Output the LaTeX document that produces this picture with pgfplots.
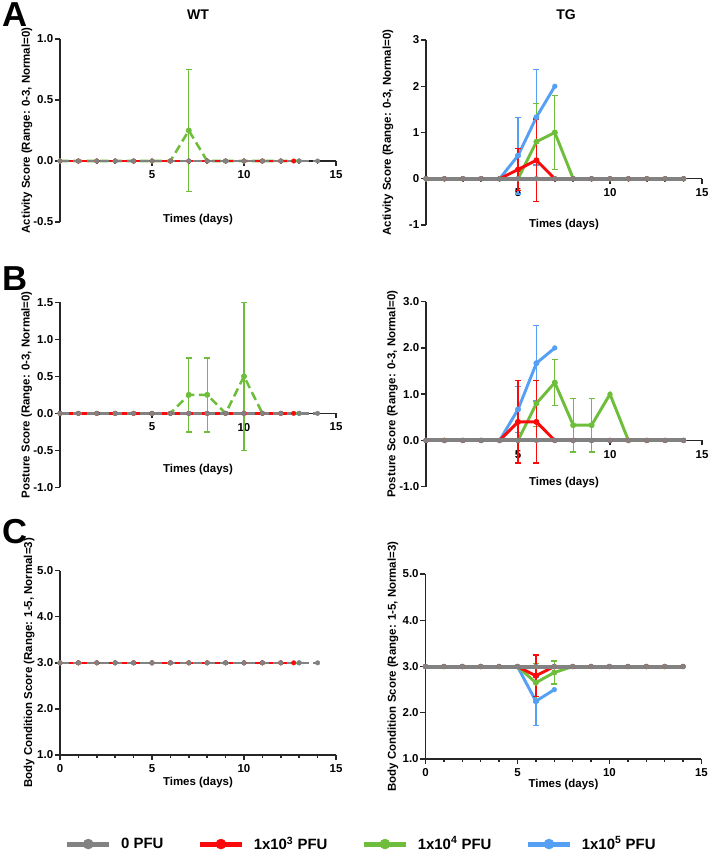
\documentclass[border=0pt]{standalone}
\usepackage{fontspec}
\setmainfont{Liberation Sans}
\usepackage{pgfplots}
\pgfplotsset{compat=1.18}
\definecolor{gcol}{RGB}{130,130,130}
\definecolor{rcol}{RGB}{250,10,10}
\definecolor{grcol}{RGB}{110,190,60}
\definecolor{bcol}{RGB}{85,160,245}
\newcommand{\lblfont}{\bfseries\fontsize{8.6}{10}\selectfont}
\pgfplotsset{
  panel/.style={
    scale only axis, width=207pt, height=138.75pt,
    anchor=south west,
    xmin=0, xmax=15,
    axis y line*=left,
    axis line style={line width=1.1pt, black!85},
    tick style={line width=1.1pt, black!85},
    tick align=outside,
    major tick length=3.75pt, minor tick length=2.2pt,
    minor xtick={1,2,...,14},
    tick label style={font=\lblfont},
    yticklabel style={inner xsep=1.2pt},
    label style={font=\lblfont, anchor=center},
    xlabel={Times (days)},
    clip=false,
  },
  wtx/.style={axis x line*=middle, xtick={5,10,15}, xticklabels={5,10,15}},
  cx/.style={axis x line*=bottom, xtick={0,5,10,15}, xticklabels={0,5,10,15}},
  wtl/.style={#1, dash pattern=on 6.5pt off 3.5pt, line width=1.9pt, mark=*, mark size=1.7pt, mark options={solid, fill=#1, line width=0.3pt}},
  tgl/.style={#1, solid, line width=2.2pt, mark=*, mark size=1.8pt, mark options={solid, fill=#1, line width=0.3pt}},
  tgg/.style={gcol, solid, line width=3pt, mark=*, mark size=1.9pt, mark options={solid, fill=gcol, line width=0.3pt}},
  eb/.style={#1, only marks, mark=none, forget plot,
    error bars/.cd, y dir=both, y explicit, error mark=|,
    error bar style={line width=1pt, solid, #1},
    error mark options={line width=1pt, mark size=2.3pt, solid, #1}},
}
\begin{document}
\begin{tikzpicture}
\path[use as bounding box] (0,0) rectangle (533.25pt,-639.75pt);

% ---------------- A WT
\begin{axis}[panel, wtx, at={(45pt,-166.5pt)}, height=137.25pt,
  ymin=-0.5, ymax=1, ytick={-0.5,0,0.5,1}, yticklabels={-0.5,0.0,0.5,1.0},
  ylabel={Activity Score (Range: 0-3, Normal=0)},
  ylabel style={at={(axis description cs:-0.12,0.5)}},
  xlabel style={at={(axis description cs:0.5,0.011)}}]
\addplot[eb=grcol] table[x=x,y=y,y error=e] {
x y e
7 0.25 0.5
};
\addplot[wtl=bcol] coordinates {(0,0)(1,0)(2,0)(3,0)(4,0)(5,0)(6,0)(7,0)(8,0)(9,0)(10,0)(11,0)(12,0)(13,0)};
\addplot[wtl=grcol] coordinates {(0,0)(1,0)(2,0)(3,0)(4,0)(5,0)(6,0)(7,0.25)(8,0)(9,0)(10,0)(11,0)(12,0)(13,0)};
\addplot[wtl=rcol, dash phase=6.5pt] coordinates {(0,0)(1,0)(2,0)(3,0)(4,0)(5,0)(6,0)(7,0)(8,0)(9,0)(10,0)(11,0)(12,0)(12.7,0)};
\addplot[wtl=gcol] coordinates {(0,0)(1,0)(2,0)(3,0)(4,0)(5,0)(6,0)(7,0)(8,0)(9,0)(10,0)(11,0)(12,0)(13,0)(14,0)};
\end{axis}

% ---------------- A TG
\begin{axis}[panel, wtx, at={(319.5pt,-168.75pt)}, height=138.75pt,
  ymin=-1, ymax=3, ytick={-1,0,1,2,3}, yticklabels={-1,0,1,2,3},
  ylabel={Activity Score (Range: 0-3, Normal=0)},
  ylabel style={at={(axis description cs:-0.138,0.5)}},
  xlabel style={at={(axis description cs:0.5,0)}}]
\addplot[eb=bcol] table[x=x,y=y,y error=e] {
x y e
5 0.5 0.83
6 1.33 1.03
};
\addplot[tgl=bcol] coordinates {(0,0)(1,0)(2,0)(3,0)(4,0)(5,0.5)(6,1.33)(7,2.0)};
\addplot[eb=grcol] table[x=x,y=y,y error=e] {
x y e
6 0.8 0.83
7 1.0 0.8
};
\addplot[tgl=grcol] coordinates {(0,0)(1,0)(2,0)(3,0)(4,0)(5,0)(6,0.8)(7,1.0)(8,0)(9,0)(10,0)(11,0)(12,0)(13,0)(14,0)};
\addplot[eb=rcol] table[x=x,y=y,y error=e] {
x y e
5 0.2 0.45
6 0.4 0.89
};
\addplot[tgl=rcol] coordinates {(0,0)(1,0)(2,0)(3,0)(4,0)(5,0.2)(6,0.4)(7,0)(8,0)(9,0)(10,0)(11,0)(12,0)(13,0)(14,0)};
\addplot[tgg] coordinates {(0,0)(1,0)(2,0)(3,0)(4,0)(5,0)(6,0)(7,0)(8,0)(9,0)(10,0)(11,0)(12,0)(13,0)(14,0)};
\end{axis}

% ---------------- B WT
\begin{axis}[panel, wtx, at={(45pt,-365.5pt)}, height=138.75pt,
  ymin=-1, ymax=1.5, ytick={-1,-0.5,0,0.5,1,1.5}, yticklabels={-1.0,-0.5,0.0,0.5,1.0,1.5},
  ylabel={Posture Score (Range: 0-3, Normal=0)},
  ylabel style={at={(axis description cs:-0.121,0.5)}},
  xlabel style={at={(axis description cs:0.5,0.094)}}]
\addplot[eb=grcol] table[x=x,y=y,y error=e] {
x y e
7 0.25 0.5
8 0.25 0.5
10 0.5 1.0
};
\addplot[wtl=bcol, dash phase=3pt] coordinates {(0,0)(1,0)(2,0)(3,0)(4,0)(5,0)(6,0)(7,0)(8,0)(9,0)(10,0)(11,0)(12,0)(13,0)};
\addplot[wtl=grcol] coordinates {(0,0)(1,0)(2,0)(3,0)(4,0)(5,0)(6,0)(7,0.25)(8,0.25)(9,0)(10,0.5)(11,0)(12,0)(13,0)};
\addplot[wtl=rcol, dash phase=6.5pt] coordinates {(0,0)(1,0)(2,0)(3,0)(4,0)(5,0)(6,0)(7,0)(8,0)(9,0)(10,0)(11,0)(12,0)(12.7,0)};
\addplot[wtl=gcol] coordinates {(0,0)(1,0)(2,0)(3,0)(4,0)(5,0)(6,0)(7,0)(8,0)(9,0)(10,0)(11,0)(12,0)(13,0)(14,0)};
\end{axis}

% ---------------- B TG
\begin{axis}[panel, wtx, at={(319.5pt,-365pt)}, height=138.75pt,
  ymin=-1, ymax=3, ytick={-1,0,1,2,3}, yticklabels={-1.0,0.0,1.0,2.0,3.0},
  ylabel={Posture Score (Range: 0-3, Normal=0)},
  ylabel style={at={(axis description cs:-0.122,0.5)}},
  xlabel style={at={(axis description cs:0.5,0.02)}}]
\addplot[eb=bcol] table[x=x,y=y,y error=e] {
x y e
5 0.67 0.5
6 1.67 0.82
};
\addplot[tgl=bcol] coordinates {(0,0)(1,0)(2,0)(3,0)(4,0)(5,0.67)(6,1.67)(7,2.0)};
\addplot[eb=grcol] table[x=x,y=y,y error=e] {
x y e
6 0.8 0.5
7 1.25 0.5
8 0.33 0.58
9 0.33 0.58
};
\addplot[tgl=grcol] coordinates {(0,0)(1,0)(2,0)(3,0)(4,0)(5,0)(6,0.8)(7,1.25)(8,0.33)(9,0.33)(10,1.0)(11,0)(12,0)(13,0)(14,0)};
\addplot[eb=rcol] table[x=x,y=y,y error=e] {
x y e
5 0.4 0.89
6 0.4 0.89
};
\addplot[tgl=rcol] coordinates {(0,0)(1,0)(2,0)(3,0)(4,0)(5,0.4)(6,0.4)(7,0)(8,0)(9,0)(10,0)(11,0)(12,0)(13,0)(14,0)};
\addplot[tgg] coordinates {(0,0)(1,0)(2,0)(3,0)(4,0)(5,0)(6,0)(7,0)(8,0)(9,0)(10,0)(11,0)(12,0)(13,0)(14,0)};
\end{axis}

% ---------------- C WT
\begin{axis}[panel, cx, at={(45pt,-566.25pt)}, height=138.25pt,
  ymin=1, ymax=5, ytick={1,2,3,4,5}, yticklabels={1.0,2.0,3.0,4.0,5.0},
  ylabel={Body Condition Score (Range: 1-5, Normal=3)},
  ylabel style={at={(axis description cs:-0.112,0.5)}},
  xlabel style={at={(axis description cs:0.5,-0.147)}},
  legend style={at={(axis description cs:1.0924,-0.483)}, anchor=center,
    draw=none, fill=none, legend columns=4,
    font=\bfseries\fontsize{11.2}{13}\selectfont,
    /tikz/every odd column/.append style={column sep=5pt},
    /tikz/every even column/.append style={column sep=23.5pt}},
  legend image code/.code={\draw[#1, line width=3.75pt] (0pt,0pt) -- (31.5pt,0pt); \fill[#1] (15.75pt,0pt) circle (3.75pt);}]
\addplot[wtl=bcol, forget plot] coordinates {(0,3)(1,3)(2,3)(3,3)(4,3)(5,3)(6,3)(7,3)(8,3)(9,3)(10,3)(11,3)(12,3)(13,3)};
\addplot[wtl=grcol, dash phase=3pt, forget plot] coordinates {(0,3)(1,3)(2,3)(3,3)(4,3)(5,3)(6,3)(7,3)(8,3)(9,3)(10,3)(11,3)(12,3)(13,3)};
\addplot[wtl=rcol, dash phase=6.5pt, forget plot] coordinates {(0,3)(1,3)(2,3)(3,3)(4,3)(5,3)(6,3)(7,3)(8,3)(9,3)(10,3)(11,3)(12,3)(12.7,3)};
\addplot[wtl=gcol, forget plot] coordinates {(0,3)(1,3)(2,3)(3,3)(4,3)(5,3)(6,3)(7,3)(8,3)(9,3)(10,3)(11,3)(12,3)(13,3)(14,3)};
\addlegendimage{gcol}\addlegendentry{0 PFU}
\addlegendimage{rcol}\addlegendentry{1x10\textsuperscript{3} PFU}
\addlegendimage{grcol}\addlegendentry{1x10\textsuperscript{4} PFU}
\addlegendimage{bcol}\addlegendentry{1x10\textsuperscript{5} PFU}
\end{axis}

% ---------------- C TG
\begin{axis}[panel, cx, at={(319.1pt,-569.25pt)}, height=138.75pt,
  ymin=1, ymax=5, ytick={1,2,3,4,5}, yticklabels={1.0,2.0,3.0,4.0,5.0},
  ylabel={Body Condition Score (Range: 1-5, Normal=3)},
  ylabel style={at={(axis description cs:-0.118,0.5)}},
  xlabel style={at={(axis description cs:0.5,-0.14)}}]
\addplot[eb=bcol] table[x=x,y=y,y error=e] {
x y e
6 2.25 0.52
};
\addplot[tgl=bcol] coordinates {(0,3)(1,3)(2,3)(3,3)(4,3)(5,3)(6,2.25)(7,2.5)};
\addplot[eb=grcol] table[x=x,y=y,y error=e] {
x y e
6 2.65 0.42
7 2.87 0.25
};
\addplot[tgl=grcol] coordinates {(0,3)(1,3)(2,3)(3,3)(4,3)(5,3)(6,2.65)(7,2.87)(8,3)(9,3)(10,3)(11,3)(12,3)(13,3)(14,3)};
\addplot[eb=rcol] table[x=x,y=y,y error=e] {
x y e
6 2.8 0.45
};
\addplot[tgl=rcol] coordinates {(0,3)(1,3)(2,3)(3,3)(4,3)(5,3)(6,2.8)(7,3)(8,3)(9,3)(10,3)(11,3)(12,3)(13,3)(14,3)};
\addplot[tgg] coordinates {(0,3)(1,3)(2,3)(3,3)(4,3)(5,3)(6,3)(7,3)(8,3)(9,3)(10,3)(11,3)(12,3)(13,3)(14,3)};
\end{axis}

% titles and panel letters
\node[font=\bfseries\fontsize{10.5}{12}\selectfont] at (148.5pt,-11.25pt) {WT};
\node[font=\bfseries\fontsize{10.5}{12}\selectfont] at (424.5pt,-11.25pt) {TG};
\node[font=\bfseries\fontsize{26}{28}\selectfont, anchor=north west, inner sep=0pt] at (1.5pt,-2pt) {A};
\node[font=\bfseries\fontsize{26}{28}\selectfont, anchor=north west, inner sep=0pt] at (1.5pt,-199.5pt) {B};
\node[font=\bfseries\fontsize{26}{28}\selectfont, anchor=north west, inner sep=0pt] at (1.5pt,-389pt) {C};
\end{tikzpicture}
\end{document}
